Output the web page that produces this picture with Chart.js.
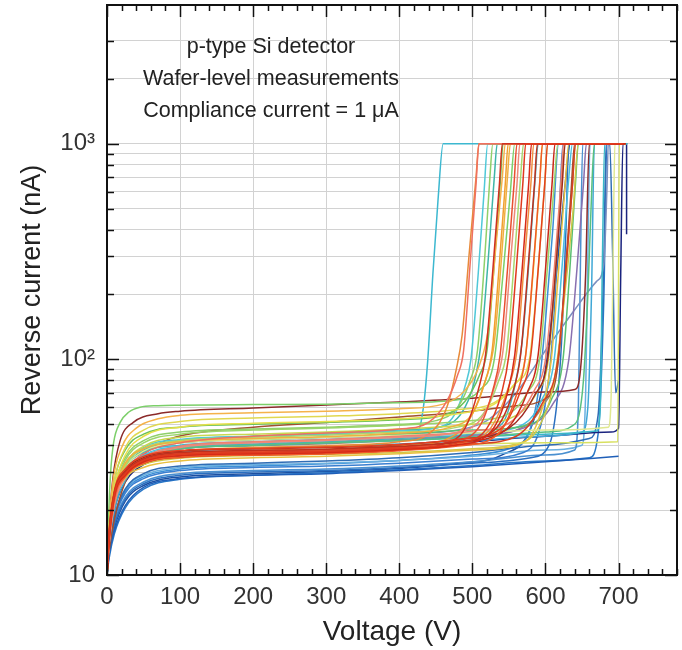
<!DOCTYPE html>
<html>
<head>
<meta charset="utf-8">
<script src="https://cdn.jsdelivr.net/npm/chart.js@4.4.1/dist/chart.umd.min.js"></script>
<style>
  html, body { margin: 0; padding: 0; background: #fff; }
  #wrap { width: 682px; height: 650px; }
</style>
</head>
<body>
<div id="wrap"><canvas id="ivChart" width="682" height="650"></canvas></div>
<script>
// I-V curves, [voltage V, current nA]
const redCurves = [
  [[0,10],[3,15],[10,23.5],[25,29.5],[50,34],[100,36.3],[200,37],[300,37.5],[400,38.8],[480,41],[520,48],[540,70],[550,105],[560,260],[569,650],[573,1000],[706,1000]],
  [[0,10],[3,14.5],[10,23],[25,29],[50,33.5],[100,35.8],[200,36.5],[300,37],[400,38.2],[480,40.2],[525,46],[548,70],[558,105],[568,260],[577,650],[581,1000],[708,1000]],
  [[0,10],[3,15.5],[10,24],[25,30],[50,34.5],[100,37],[200,37.8],[300,38.3],[400,39.5],[480,41.5],[530,47],[555,70],[566,105],[576,260],[585,650],[589,1000],[710,1000]],
  [[0,10],[3,14.5],[10,22.5],[25,28.5],[50,33],[100,35.3],[200,36],[300,36.5],[400,37.7],[480,39.6],[535,45],[560,68],[573,105],[583,260],[592,650],[596,1000],[706,1000]],
  [[0,10],[3,16],[10,24.5],[25,31],[50,35.5],[100,37.8],[200,38.6],[300,39.2],[400,40.3],[480,42.5],[540,48],[565,70],[580,105],[590,260],[599,650],[603,1000],[708,1000]],
  [[0,10],[3,15],[10,23],[25,29],[50,33],[100,35.2],[200,36],[300,36.6],[400,38],[460,40.5],[490,48],[508,72],[518,105],[528,260],[537,650],[541,1000],[710,1000]],
  [[0,10],[3,15.5],[10,24],[25,30],[50,34.5],[100,36.8],[200,37.5],[300,38],[400,39.3],[470,41.5],[510,49],[528,72],[538,105],[548,260],[557,650],[561,1000],[706,1000]],
  [[0,10],[3,15.5],[10,23.5],[25,29.5],[50,34],[100,36.5],[200,37.4],[300,38],[400,39.2],[480,41.3],[545,47],[575,70],[590,105],[600,260],[609,650],[613,1000],[705,1000]],
  [[0,10],[3,16],[10,24],[25,30.5],[50,35],[100,37.5],[200,38.5],[300,39],[400,40.2],[480,42.5],[550,48],[585,68],[603,100],[614,260],[623,650],[627,1000],[706,1000]],
  [[0,10],[3,15],[10,22],[25,30],[50,36.5],[100,41],[200,44],[300,45.5],[400,47.5],[440,51],[465,64],[480,85],[488,110],[497,280],[505,650],[509,1000],[705,1000]],
  [[0,10],[3,14],[10,21],[25,28.5],[50,34.5],[100,39],[200,41],[300,42],[400,43.5],[480,46],[515,55],[532,78],[542,110],[552,280],[561,650],[565,1000],[706,1000]],
  [[0,10],[3,14],[10,21.5],[25,29],[50,35],[100,39.5],[200,41.5],[300,42.5],[400,44],[500,46.5],[555,52],[585,72],[600,100],[612,260],[621,650],[625,1000],[706,1000]],
  [[0,10],[3,15],[10,23],[25,29],[50,33.5],[100,35.8],[200,36.8],[300,37.3],[400,38.5],[500,40.5],[560,44],[595,62],[617,100],[628,260],[637,650],[641,1000],[708,1000]],
];
const redColors = ["#e03a1e", "#d62a18", "#c0301e", "#f05a28", "#e4401f", "#d03020", "#e85030", "#c82818", "#a02820", "#f07060", "#ee8a7a", "#f08070", "#d84020"];

const orangeCurves = [
  [[0,10],[3,15],[10,22.5],[25,29.5],[50,34],[100,36.5],[200,37.8],[300,38.3],[400,39.5],[460,42],[495,52],[515,75],[527,110],[537,280],[545,650],[549,1000],[708,1000]],
  [[0,10],[3,15],[10,23],[25,30.5],[50,35],[100,37.5],[200,39],[300,39.8],[400,41.5],[440,45],[465,60],[478,90],[486,130],[496,320],[505,700],[509,1000],[705,1000]],
  [[0,10],[3,17],[8,27],[20,39],[40,48],[70,53],[100,55],[200,56.5],[300,57.5],[400,59],[460,62],[490,72],[510,95],[522,140],[532,330],[541,700],[545,1000],[706,1000]],
  [[0,10],[3,15],[10,22.5],[25,29],[50,33],[100,35],[200,36.2],[300,36.8],[400,38],[480,40.5],[525,48],[548,72],[561,110],[571,280],[580,650],[584,1000],[706,1000]],
  [[0,10],[3,15.5],[10,24],[25,33],[50,38.5],[100,41.5],[200,43],[300,43.8],[400,45.5],[470,48.5],[500,56],[518,80],[530,120],[540,300],[548,700],[552,1000],[704,1000]],
];
const orangeColors = ["#f0a030", "#e88a3a", "#f5b24a", "#f09040", "#f0b040"];

const yellowCurves = [
  [[0,10],[3,14.5],[10,21.5],[25,29],[50,34.5],[100,37.5],[200,39],[300,39.5],[400,40],[500,40.5],[600,41],[699,41.5],[701,1000],[708,1000]],
  [[0,10],[3,16],[10,25],[25,36],[50,44],[100,48.5],[200,50.5],[300,51.5],[400,53],[480,56],[530,62],[555,75],[572,100],[583,250],[592,650],[596,1000],[705,1000]],
  [[0,10],[3,17],[10,27],[25,39],[50,47],[100,51.5],[200,53.5],[300,54.5],[400,56],[480,58.5],[530,63],[560,78],[578,100],[590,260],[599,650],[603,1000],[708,1000]],
  [[0,10],[3,15],[10,22],[25,31],[50,37.5],[100,41],[200,42.5],[300,43.5],[400,44.5],[500,45.5],[600,47],[686,48.5],[690,70],[693,400],[695,1000],[710,1000]],
  [[0,10],[3,14.5],[10,21.5],[25,28],[50,31.5],[100,33.8],[200,35],[300,35.5],[400,36.5],[500,38],[560,40],[590,52],[608,100],[618,260],[627,650],[632,1000],[706,1000]],
  [[0,10],[3,15.5],[10,23],[25,32.5],[50,39.5],[100,43.5],[200,45],[300,46],[400,47.5],[500,50],[560,55],[588,70],[604,100],[614,260],[622,650],[627,1000],[705,1000]],
  [[0,10],[3,14.5],[10,22],[25,28.5],[50,32.5],[100,34.8],[200,35.8],[300,36.3],[400,37],[500,38.5],[560,40.5],[590,48],[612,80],[625,180],[638,500],[645,1000],[700,1000]],
];
const yellowColors = ["#d8e060", "#e6e04a", "#e0d850", "#e0e890", "#e8c040", "#c8d850", "#d0c848"];

const greenCurves = [
  [[0,10],[2,18],[5,30],[9,41],[18,51],[30,57],[45,60],[70,61],[100,61.3],[200,61.7],[300,62],[400,63],[480,65],[510,72],[530,100],[542,250],[552,600],[558,1000],[700,1000]],
  [[0,10],[3,17],[10,27],[25,38],[50,45],[100,48.5],[200,50],[300,51],[400,52.5],[460,55],[490,64],[510,85],[520,110],[530,280],[538,650],[542,1000],[708,1000]],
  [[0,10],[3,16],[10,24],[25,34],[50,41],[100,45],[200,47],[300,48],[400,49.5],[500,52],[550,56],[575,70],[592,100],[602,250],[612,650],[617,1000],[708,1000]],
  [[0,10],[3,15],[10,22],[25,31],[50,37.5],[100,41],[200,42.5],[300,43.5],[400,45],[500,47],[580,50],[608,65],[624,100],[633,250],[641,650],[645,1000],[710,1000]],
  [[0,10],[3,14.5],[10,21],[25,29],[50,35],[100,38.5],[200,40],[300,41],[400,42],[500,43.5],[600,46],[640,50],[652,80],[658,200],[664,700],[667,1000],[708,1000]],
  [[0,10],[3,15],[10,22.5],[25,32],[50,38.5],[100,42],[200,43.5],[300,44.5],[400,46],[480,48.5],[515,56],[535,78],[547,110],[557,280],[566,700],[570,1000],[706,1000]],
  [[0,10],[3,16],[10,25],[25,35],[50,42],[100,46],[200,47.5],[300,48.5],[400,50],[450,52],[480,60],[497,80],[507,110],[517,300],[524,700],[528,1000],[710,1000]],
];
const greenColors = ["#7ccf6a", "#6cc25a", "#9ad46a", "#5abf70", "#58c080", "#a8d870", "#8fd06a"];

const cyanCurves = [
  [[0,10],[3,15],[10,22],[25,31],[50,37],[100,40],[200,41.5],[300,42.5],[400,44],[425,46],[433,60],[439,100],[446,250],[453,550],[460,1000],[712,1000]],
  [[0,10],[3,15],[10,21.5],[25,30],[50,36],[100,39.5],[200,41],[300,42],[400,43.5],[500,45.5],[570,50],[595,65],[612,100],[622,250],[632,700],[637,1000],[708,1000]],
  [[0,10],[3,14.5],[10,21],[25,29],[50,35],[100,38.5],[200,40],[300,41],[400,42],[500,43.5],[600,45],[670,46.5],[675,60],[678,300],[681,1000],[708,1000]],
  [[0,10],[3,14],[10,20],[25,27.5],[50,33.5],[100,37],[200,38.5],[300,39.5],[400,40.5],[500,42],[600,44],[650,46],[658,60],[663,200],[667,1000],[705,1000]],
  [[0,10],[3,16],[10,23],[25,32],[50,39],[100,42.5],[200,44],[300,45],[400,46.5],[450,48],[475,55],[490,75],[498,100],[508,250],[516,600],[521,1000],[712,1000]],
  [[0,10],[3,15],[10,22],[25,31],[50,38],[100,42],[200,44],[300,45.5],[400,47],[460,49],[490,60],[505,85],[512,120],[522,300],[530,700],[534,1000],[705,1000]],
  [[0,10],[3,14.5],[10,21],[25,29.5],[50,35.5],[100,39],[200,40.5],[300,41.5],[400,43],[500,45],[540,50],[558,75],[568,120],[578,300],[586,700],[590,1000],[706,1000]],
];
const cyanColors = ["#3cb8d0", "#4ac0e0", "#38b8c8", "#3fa7d6", "#50c8d8", "#3fb5a8", "#4ab0b8"];

const otherCurves = [
  [[0,10],[3,17],[8,28],[18,42],[36,51],[70,56],[100,57.5],[200,59.5],[300,61.5],[400,63.5],[500,66],[600,70.5],[640,72.5],[648,90],[655,250],[660,1000],[708,1000]],
  [[0,10],[3,13],[10,18],[25,27],[50,36],[80,42],[120,45.5],[200,48.5],[300,51],[400,54],[500,57.5],[560,61],[600,66],[615,85],[625,200],[635,600],[640,1000],[700,1000]],
  [[0,10],[3,14.5],[10,21],[25,29],[50,35],[100,38.5],[200,40],[300,41],[400,42.5],[500,44.5],[570,48],[610,62],[632,100],[643,260],[652,650],[656,1000],[708,1000]],
  [[0,10],[3,14],[10,20],[25,27],[50,32.5],[100,35.5],[200,37],[300,38],[400,39.5],[500,41.5],[600,44],[690,46],[700,48],[703,250],[706,1000],[711,1000],[711,380]],
  [[0,10],[3,15],[10,22],[25,31],[50,37.5],[100,41],[200,42.5],[300,43.5],[400,45],[480,47],[520,52],[560,70],[600,110],[640,170],[670,230],[680,280],[684,600],[686,1000],[705,1000]],
  [[0,10],[3,13.5],[10,18.5],[25,25],[50,29.5],[100,32],[200,33],[300,33.8],[400,35],[500,37],[600,40],[660,43],[672,55],[680,300],[683,1000],[688,1000],[692,300],[696,70],[700,80]],
  [[0,10],[3,15.5],[10,23],[25,30.5],[50,35.5],[100,38.5],[200,39.8],[300,40.6],[400,42],[500,44],[560,47],[595,60],[618,100],[628,260],[637,650],[641,1000],[705,1000]],
];
const otherColors = ["#8b2a2a", "#a05030", "#8870b0", "#1a237e", "#7b8fc0", "#2f6db5", "#9a8a70"];

const blueCurves = [
  [[0,10],[3,12.5],[10,16],[25,21],[50,25.5],[100,28],[200,29],[300,29.5],[400,30.5],[500,31.8],[600,33.5],[700,35.5]],
  [[0,10],[3,13],[10,17],[25,22.5],[50,26.5],[100,29],[200,30],[300,30.5],[400,31.5],[500,33],[580,35],[605,40],[615,60],[622,120],[628,400],[632,1000],[700,1000]],
  [[0,10],[3,13.5],[10,18],[25,24],[50,28],[100,30.5],[200,31.5],[300,32],[400,33],[500,34.5],[570,37],[590,45],[602,70],[610,130],[618,400],[624,1000],[690,1000]],
  [[0,10],[3,13],[10,17.5],[25,23],[50,27],[100,29.5],[200,30.5],[300,31],[400,32],[500,33.5],[600,36],[640,38],[645,60],[648,300],[651,1000],[705,1000]],
  [[0,10],[3,14],[10,19],[25,25],[50,29],[100,31.5],[200,32.5],[300,33],[400,34],[500,35.5],[600,38],[650,40],[655,70],[658,300],[661,1000],[705,1000]],
  [[0,10],[3,12],[10,15.5],[25,20.5],[50,25],[100,27.8],[200,29],[300,29.8],[400,30.8],[500,32.2],[600,33.8],[660,35],[672,45],[680,200],[684,1000],[708,1000]],
  [[0,10],[3,13.5],[10,18.5],[25,24.5],[50,28.5],[100,31],[200,32],[300,32.8],[400,34],[500,36],[550,38.5],[575,44],[590,70],[600,150],[610,400],[618,1000],[700,1000]],
  [[0,10],[3,12.8],[10,16.5],[25,22],[50,26],[100,28.5],[200,29.5],[300,30.2],[400,31.2],[480,33],[540,36],[580,48],[600,90],[615,250],[628,700],[634,1000],[705,1000]],
];
const blueColors = ["#1f5fb8", "#2a6fc0", "#3a7fd0", "#4a90d0", "#6ab0e0", "#2a78c8", "#3b8fd6", "#1c4fa0"];

const xTickValues = [0, 100, 200, 300, 400, 500, 600, 700];
const yTickValues = [10, 20, 30, 40, 50, 60, 70, 80, 90, 100, 200, 300, 400, 500, 600, 700, 800, 900, 1000, 2000, 3000];
const yLabelValues = [10, 100, 1000];
const yLabelTexts = ["10", "10\u00b2", "10\u00b3"];
const noteLines = ["p-type Si detector", "Wafer-level measurements", "Compliance current = 1 \u03bcA"];

const FONT = '"Liberation Sans", Arial, Helvetica, sans-serif';
Chart.defaults.font.family = FONT;

const groups = [
  [redCurves, redColors],
  [orangeCurves, orangeColors],
  [yellowCurves, yellowColors],
  [greenCurves, greenColors],
  [cyanCurves, cyanColors],
  [otherCurves, otherColors],
  [blueCurves, blueColors],
];
const datasets = [];
groups.forEach(([curves, colors]) => {
  curves.forEach((pts, i) => {
    datasets.push({
      data: pts.map((p) => ({ x: p[0], y: p[1] })),
      borderColor: colors[i],
      borderWidth: 1.5,
      pointRadius: 0,
      fill: false,
      cubicInterpolationMode: "monotone",
    });
  });
});

// frame, inward tick marks on all four sides, and the note text
const frameAndNotes = {
  id: "frameAndNotes",
  afterDraw(chart) {
    const { ctx, chartArea: a, scales: { x, y } } = chart;
    ctx.save();
    ctx.strokeStyle = "#111";
    ctx.lineWidth = 1.5;
    ctx.beginPath();
    for (let v = 0; v <= 780; v += 20) {
      const px = Math.round(x.getPixelForValue(v)) + 0.5;
      const len = v % 100 === 0 ? 12 : 6;
      ctx.moveTo(px, a.bottom); ctx.lineTo(px, a.bottom - len);
      ctx.moveTo(px, a.top); ctx.lineTo(px, a.top + len);
    }
    yTickValues.forEach((v) => {
      const py = Math.round(y.getPixelForValue(v)) + 0.5;
      const len = yLabelValues.includes(v) ? 12 : 7;
      ctx.moveTo(a.left, py); ctx.lineTo(a.left + len, py);
      ctx.moveTo(a.right, py); ctx.lineTo(a.right - len, py);
    });
    ctx.stroke();
    ctx.lineWidth = 2;
    ctx.strokeRect(a.left, a.top, a.width, a.height);

    ctx.fillStyle = "#222";
    ctx.font = "21.5px " + FONT;
    ctx.textAlign = "center";
    ctx.textBaseline = "middle";
    const noteY = [47, 79, 111];
    noteLines.forEach((t, i) => ctx.fillText(t, 271, noteY[i]));
    ctx.restore();
  },
};

new Chart(document.getElementById("ivChart"), {
  type: "line",
  data: { datasets },
  options: {
    responsive: false,
    animation: false,
    devicePixelRatio: 1,
    layout: { padding: { top: 5, right: 5, left: 0, bottom: 0 } },
    plugins: { legend: { display: false }, tooltip: { enabled: false } },
    scales: {
      x: {
        type: "linear",
        min: 0,
        max: 780,
        afterBuildTicks: (s) => { s.ticks = xTickValues.map((v) => ({ value: v })); },
        afterFit: (s) => { s.height = 75; s.paddingLeft = 0; s.paddingRight = 0; },
        grid: { color: "#d2d2d2", lineWidth: 1, drawTicks: false },
        border: { display: false },
        ticks: { color: "#333", font: { size: 24 }, padding: 8, maxRotation: 0, autoSkip: false },
        title: { display: true, text: "Voltage (V)", color: "#222", font: { size: 28, lineHeight: 1 }, padding: { top: 0, bottom: 4 } },
      },
      y: {
        type: "logarithmic",
        min: 10,
        max: 4400,
        afterBuildTicks: (s) => { s.ticks = yTickValues.map((v) => ({ value: v })); },
        afterFit: (s) => { s.width = 107; s.paddingTop = 0; s.paddingBottom = 0; },
        grid: { color: "#d2d2d2", lineWidth: 1, drawTicks: false },
        border: { display: false },
        ticks: {
          color: "#333",
          font: { size: 24 },
          padding: 12,
          autoSkip: false,
          callback: (v) => {
            const i = yLabelValues.indexOf(v);
            return i >= 0 ? yLabelTexts[i] : "";
          },
        },
        title: { display: true, text: "Reverse current (nA)", color: "#222", font: { size: 27, lineHeight: 1 }, padding: { top: 19, bottom: 0 } },
      },
    },
  },
  plugins: [frameAndNotes],
});
</script>
</body>
</html>
